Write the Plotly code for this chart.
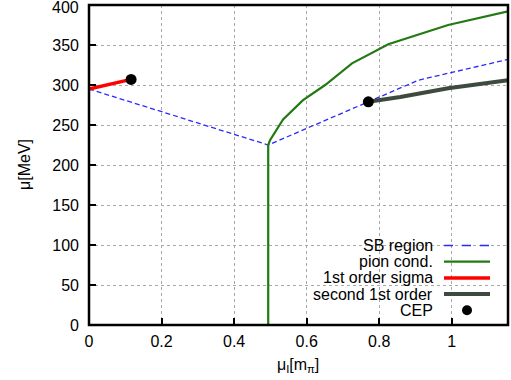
import plotly.graph_objects as go

# SB region (blue dashed)
sb_x = [0.0, 0.494, 0.77, 0.908, 1.155]
sb_y = [295, 225, 279, 306, 332]
# pion condensation (green)
pc_x = [0.494, 0.494, 0.499, 0.535, 0.59, 0.651, 0.725, 0.825, 0.99, 1.155]
pc_y = [0, 225, 231, 257, 281, 300, 327, 351, 375, 392]
# 1st order sigma (red)
fo_x = [0.0, 0.116]
fo_y = [295, 307]
# second 1st order (dark gray)
so_x = [0.77, 0.858, 0.99, 1.087, 1.155]
so_y = [279, 285, 296, 302.5, 306]
# CEPs
cep_x = [0.116, 0.77]
cep_y = [307, 279]

x_ticks = [0, 0.2, 0.4, 0.6, 0.8, 1]
y_ticks = [0, 50, 100, 150, 200, 250, 300, 350, 400]

FONT = "Liberation Sans, Arial, sans-serif"
FS = 16
W, H = 511, 380
L, R, T, B = 89, 3, 5, 55

BLUE = dict(color="#2a2aff", width=1.3, dash="5px,3px")
GREEN = dict(color="#237a14", width=2.2)
RED = dict(color="#ff0000", width=3.5)
GRAY = dict(color="#3f4a3f", width=4)

fig = go.Figure()
fig.add_trace(go.Scatter(x=sb_x, y=sb_y, mode="lines", name="SB region", line=BLUE))
fig.add_trace(go.Scatter(x=pc_x, y=pc_y, mode="lines", name="pion cond.", line=GREEN))
fig.add_trace(go.Scatter(x=fo_x, y=fo_y, mode="lines", name="1st order sigma", line=RED))
fig.add_trace(go.Scatter(x=so_x, y=so_y, mode="lines", name="second 1st order", line=GRAY))
fig.add_trace(go.Scatter(x=cep_x, y=cep_y, mode="markers", name="CEP",
                         marker=dict(color="black", size=11)))

def px(xp):
    return (xp - L) / (W - L - R)

def py(yp):
    return 1 - (yp - T) / (H - T - B)

leg = [("SB region", dict(color="#2a2aff", width=1.5, dash="dash")), ("pion cond.", GREEN),
       ("1st order sigma", RED), ("second 1st order", GRAY), ("CEP", None)]
annotations = []
shapes = []
for i, (name, ln) in enumerate(leg):
    yy = 245.5 + i * 16.2
    annotations.append(dict(x=px(435), y=py(yy), xref="x domain", yref="y domain",
                            text=name, showarrow=False, xanchor="right", yanchor="middle",
                            font=dict(family=FONT, size=FS, color="black")))
    if ln is not None:
        shapes.append(dict(type="line", xref="x domain", yref="y domain",
                           x0=px(444), x1=px(490), y0=py(yy), y1=py(yy), line=ln))
    else:
        shapes.append(dict(type="circle", xref="x domain", yref="y domain",
                           x0=px(462), x1=px(472), y0=py(yy - 5), y1=py(yy + 5),
                           fillcolor="black", line=dict(color="black", width=0)))

shapes.append(dict(type="rect", xref="x domain", yref="y domain", x0=0, x1=1, y0=0, y1=1,
                   line=dict(color="black", width=2.5), layer="above"))

# top y tick label (plotly hides it since it overflows the page top)
annotations.append(dict(x=px(80), y=py(0), xref="x domain", yref="y domain",
                        text=str(y_ticks[-1]), showarrow=False, xanchor="right",
                        yanchor="top", yshift=2, borderpad=0,
                        font=dict(family=FONT, size=FS, color="black")))

annotations.append(dict(x=px(298), y=py(365), xref="x domain", yref="y domain",
                        text="μ<sub>I</sub>[m<sub>π</sub>]", showarrow=False,
                        xanchor="center", yanchor="middle",
                        font=dict(family=FONT, size=FS, color="black")))
annotations.append(dict(x=px(24), y=py(165), xref="x domain", yref="y domain",
                        text="μ[MeV]", showarrow=False, textangle=-90,
                        xanchor="center", yanchor="middle",
                        font=dict(family=FONT, size=FS, color="black")))

axis_common = dict(ticks="inside", ticklen=7, tickwidth=2, tickcolor="black",
                   showgrid=True, gridcolor="#a8a8a8", griddash="dot", gridwidth=1,
                   zeroline=False, showline=False, automargin=False,
                   tickfont=dict(family=FONT, size=FS, color="black"))

fig.update_layout(
    width=W, height=H,
    margin=dict(l=L, r=R, t=T, b=B, autoexpand=False),
    paper_bgcolor="white", plot_bgcolor="white",
    showlegend=False,
    font=dict(family=FONT, size=FS, color="black"),
    shapes=shapes, annotations=annotations,
    xaxis=dict(range=[0, 1.155], tickvals=x_ticks, ticklabelstandoff=5, **axis_common),
    yaxis=dict(range=[0, 400], tickvals=y_ticks, ticklabelstandoff=9, **axis_common),
)

fig.write_html("out.html", config={"displayModeBar": False},
               post_script="document.body.style.margin='0';")
